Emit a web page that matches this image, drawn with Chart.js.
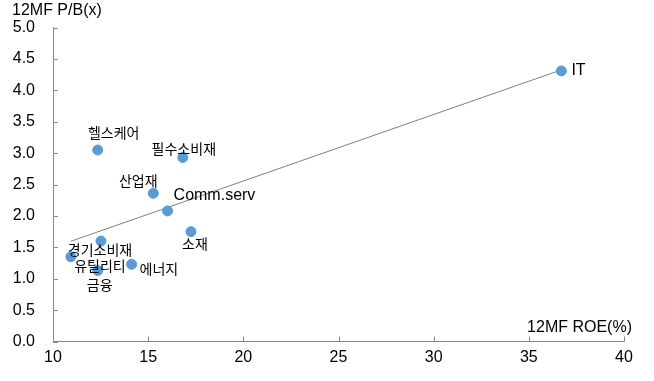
<!DOCTYPE html>
<html>
<head>
<meta charset="utf-8">
<script src="https://cdn.jsdelivr.net/npm/chart.js@4.4.1/dist/chart.umd.min.js"></script>
<style>
  html, body { margin: 0; padding: 0; background: #fff; }
  #wrap { width: 654px; height: 381px; position: relative; }
</style>
</head>
<body>
<div id="wrap"><canvas id="c" width="654" height="381"></canvas></div>
<script>
// ---- data ----
const categories = ['IT', '헬스케어', '필수소비재', '산업재', 'Comm.serv', '소재', '경기소비재', '에너지', '유틸리티', '금융'];
const roe = [36.71, 12.35, 16.82, 15.27, 16.02, 17.25, 12.52, 14.13, 10.94, 12.35];
const pb  = [4.31, 3.05, 2.93, 2.36, 2.08, 1.75, 1.60, 1.23, 1.35, 1.13];
const xTicks = [10, 15, 20, 25, 30, 35, 40];
const yTicks = [0, 0.5, 1, 1.5, 2, 2.5, 3, 3.5, 4, 4.5, 5];
const xTitle = '12MF ROE(%)';
const yTitle = '12MF P/B(x)';

// label placement (style only): [dx, dy, align]
const labelPos = {
  'IT': [10, 0, 'left'],
  '헬스케어': [16, -17, 'center'],
  '필수소비재': [1, -9, 'center'],
  '산업재': [-15, -13, 'center'],
  'Comm.serv': [6, -15, 'left'],
  '소재': [4, 12, 'center'],
  '경기소비재': [-1, 9, 'center'],
  '에너지': [8, 4, 'left'],
  '유틸리티': [29, 9, 'center'],
  '금융': [2, 14, 'center']
};

const points = roe.map((x, i) => ({ x: x, y: pb[i] }));

// Excel-style linear trendline from the data
const n = roe.length;
const mx = roe.reduce((a, b) => a + b, 0) / n;
const my = pb.reduce((a, b) => a + b, 0) / n;
let sxy = 0, sxx = 0;
for (let i = 0; i < n; i++) { sxy += (roe[i] - mx) * (pb[i] - my); sxx += (roe[i] - mx) ** 2; }
const slope = sxy / sxx, icpt = my - slope * mx;
const xmin = Math.min(...roe), xmax = Math.max(...roe);
const trend = [{ x: xmin, y: icpt + slope * xmin }, { x: xmax, y: icpt + slope * xmax }];

const LATIN = "'Liberation Sans', Arial, sans-serif";
const KR = "'Noto Sans CJK KR', sans-serif";
const AXIS = '#888888';

const decor = {
  id: 'decor',
  afterDraw(chart) {
    const ctx = chart.ctx;
    const xs = chart.scales.x, ys = chart.scales.y;
    const a = chart.chartArea;
    ctx.save();
    // inner tick marks
    ctx.strokeStyle = AXIS; ctx.lineWidth = 1;
    ctx.beginPath();
    yTicks.forEach(v => {
      const py = Math.round(ys.getPixelForValue(v)) + 0.5;
      ctx.moveTo(a.left, py); ctx.lineTo(a.left + 5, py);
    });
    xTicks.forEach(v => {
      const px = Math.round(xs.getPixelForValue(v)) + 0.5;
      ctx.moveTo(px, a.bottom); ctx.lineTo(px, a.bottom - 5);
    });
    ctx.stroke();
    // axis titles
    ctx.fillStyle = '#000';
    ctx.font = '16px ' + LATIN;
    ctx.textBaseline = 'middle';
    ctx.textAlign = 'left';
    ctx.fillText(yTitle, 12, 11);
    ctx.textAlign = 'right';
    ctx.fillText(xTitle, 632, a.bottom - 14);
    // point labels
    const meta = chart.getDatasetMeta(1);
    meta.data.forEach((el, i) => {
      const name = categories[i];
      const p = labelPos[name] || [0, -12, 'center'];
      const isLatin = /^[\x00-\x7F]+$/.test(name);
      ctx.font = isLatin ? ('16px ' + LATIN) : ('14px ' + KR);
      ctx.textAlign = p[2];
      ctx.textBaseline = 'middle';
      ctx.fillText(name, el.x + p[0], el.y + p[1]);
    });
    ctx.restore();
  }
};

new Chart(document.getElementById('c'), {
  type: 'scatter',
  data: {
    datasets: [
      {
        type: 'line',
        data: trend,
        borderColor: '#7f7f7f',
        borderWidth: 1,
        pointRadius: 0,
        fill: false,
        order: 2
      },
      {
        data: points,
        backgroundColor: '#5b9bd5',
        borderColor: '#5b9bd5',
        pointRadius: 5,
        pointHoverRadius: 5,
        order: 1
      }
    ]
  },
  options: {
    responsive: false,
    animation: false,
    devicePixelRatio: 1,
    layout: { padding: { left: 0, top: 26, right: 30, bottom: 0 } },
    plugins: { legend: { display: false }, tooltip: { enabled: false } },
    scales: {
      x: {
        type: 'linear',
        min: 10, max: 40,
        afterBuildTicks: s => { s.ticks = xTicks.map(v => ({ value: v })); },
        afterFit: s => { s.height = 39.5; },
        grid: { display: false, drawTicks: false },
        border: { display: true, color: AXIS, width: 1 },
        ticks: { color: '#000', font: { family: LATIN, size: 16 }, padding: 6, maxRotation: 0,
                 callback: v => String(v) }
      },
      y: {
        type: 'linear',
        min: 0, max: 5,
        afterBuildTicks: s => { s.ticks = yTicks.map(v => ({ value: v })); },
        afterFit: s => { s.width = 53; },
        grid: { display: false, drawTicks: false },
        border: { display: true, color: AXIS, width: 1 },
        ticks: { color: '#000', font: { family: LATIN, size: 16 }, padding: 18,
                 callback: v => Number(v).toFixed(1) }
      }
    }
  },
  plugins: [decor]
});
</script>
</body>
</html>
